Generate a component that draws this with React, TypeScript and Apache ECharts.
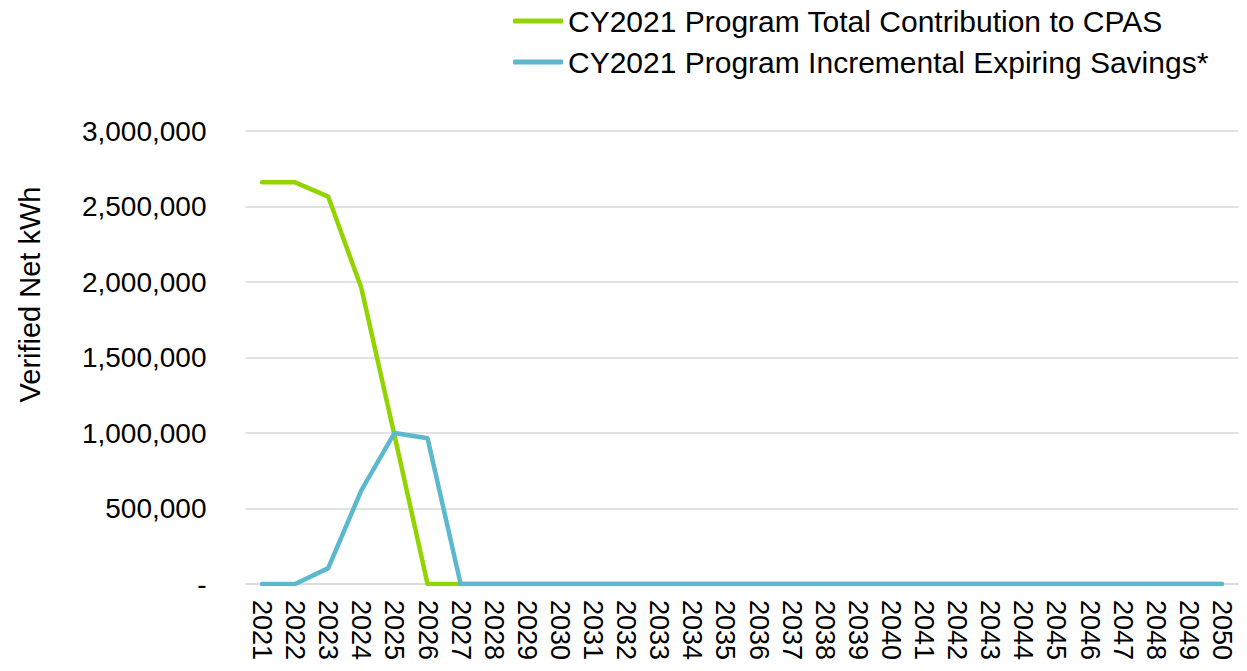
import React, { useEffect, useRef } from "react";
import * as echarts from "echarts";

const years: string[] = [];
for (let y = 2021; y <= 2050; y++) years.push(String(y));

const totalContribution = [
  2660000, 2660000, 2565000, 1960000, 985000, 0, 0, 0, 0, 0,
  0, 0, 0, 0, 0, 0, 0, 0, 0, 0,
  0, 0, 0, 0, 0, 0, 0, 0, 0, 0,
];
const expiringSavings = [
  0, 0, 105000, 620000, 1000000, 965000, 0, 0, 0, 0,
  0, 0, 0, 0, 0, 0, 0, 0, 0, 0,
  0, 0, 0, 0, 0, 0, 0, 0, 0, 0,
];

const seriesNames = [
  "CY2021 Program Total Contribution to CPAS",
  "CY2021 Program Incremental Expiring Savings*",
];

const FONT = "'Liberation Sans', Arial, sans-serif";

export default function App() {
  const ref = useRef<HTMLDivElement>(null);
  useEffect(() => {
    if (!ref.current) return;
    const chart = echarts.init(ref.current, null, { renderer: "svg" });
    chart.setOption({
      animation: false,
      textStyle: { fontFamily: FONT },
      legend: {
        orient: "vertical",
        left: 508,
        top: 0,
        itemWidth: 50,
        itemHeight: 5,
        itemGap: 9,
        icon: "roundRect",
        textStyle: { fontSize: 30, color: "#000", fontFamily: FONT, lineHeight: 32 },
        data: seriesNames,
      },
      grid: { left: 245.5, right: 8.5, top: 131, bottom: 87, containLabel: false },
      xAxis: {
        type: "category",
        data: years,
        boundaryGap: true,
        axisLine: { show: true, lineStyle: { color: "#d9d9d9", width: 1.5 } },
        axisTick: { show: false },
        axisLabel: {
          rotate: -90,
          interval: 0,
          margin: 16,
          fontSize: 27,
          color: "#000",
          fontFamily: FONT,
        },
      },
      yAxis: {
        type: "value",
        min: 0,
        max: 3000000,
        interval: 500000,
        name: "Verified Net kWh",
        nameLocation: "middle",
        nameGap: 201,
        nameRotate: 90,
        nameTextStyle: { fontSize: 29, color: "#000", fontFamily: FONT, padding: [0, 0, 0, 126] },
        axisLine: { show: false },
        axisTick: { show: false },
        splitLine: { lineStyle: { color: "#d9d9d9", width: 1.5 } },
        axisLabel: {
          margin: 39,
          fontSize: 28,
          color: "#000",
          fontFamily: FONT,
          formatter: (v: number) => (v === 0 ? "-" : v.toLocaleString("en-US")),
        },
      },
      series: [
        {
          name: seriesNames[0],
          type: "line",
          data: totalContribution,
          symbol: "none",
          lineStyle: { color: "#92D400", width: 4.5, cap: "round", join: "round" },
          itemStyle: { color: "#92D400" },
        },
        {
          name: seriesNames[1],
          type: "line",
          data: expiringSavings,
          symbol: "none",
          lineStyle: { color: "#5CB8CC", width: 4.5, cap: "round", join: "round" },
          itemStyle: { color: "#5CB8CC" },
        },
      ],
    });
    return () => chart.dispose();
  }, []);
  return <div ref={ref} style={{ width: 1247, height: 671, position: "absolute", left: 0, top: 0 }} />;
}
